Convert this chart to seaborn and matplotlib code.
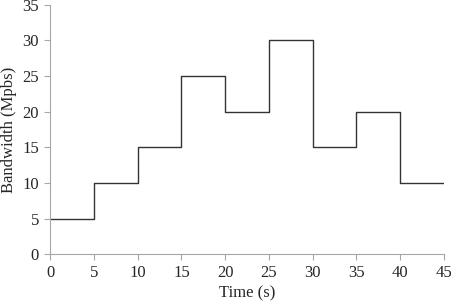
import matplotlib
matplotlib.use("Agg")
import matplotlib.pyplot as plt
import seaborn as sns
import pandas as pd

# step boundaries (s) and bandwidth held from each boundary (Mpbs)
time_s = [0, 5, 10, 15, 20, 25, 30, 35, 40, 45]
bandwidth = [5, 10, 15, 25, 20, 30, 15, 20, 10, 10]

sns.set_style("white")
plt.rcParams['font.family'] = ['Liberation Serif', 'DejaVu Serif']

df = pd.DataFrame({"Time": time_s, "Bandwidth": bandwidth})

fig = plt.figure(figsize=(4.52, 3.04), dpi=100)
ax = fig.add_axes([0.111, 0.164, 0.871, 0.82])
sns.lineplot(data=df, x="Time", y="Bandwidth", drawstyle="steps-post",
             color="#333333", linewidth=1.0, ax=ax)

ax.set_xlim(0, 45)
ax.set_ylim(0, 35)
ax.set_xticks(range(0, 46, 5))
ax.set_yticks(range(0, 36, 5))
ax.set_xlabel("Time (s)", fontsize=12, labelpad=3)
ax.set_ylabel("Bandwidth (Mpbs)", fontsize=12, labelpad=4)
ax.tick_params(axis="both", labelsize=12, direction="out", length=4,
               width=0.8, color="#a6a6a6", bottom=True, left=True, pad=4)
for side in ["top", "right"]:
    ax.spines[side].set_visible(False)
for side in ["left", "bottom"]:
    ax.spines[side].set_color("#a6a6a6")
    ax.spines[side].set_linewidth(0.8)

fig.savefig("out.png", dpi=100)
